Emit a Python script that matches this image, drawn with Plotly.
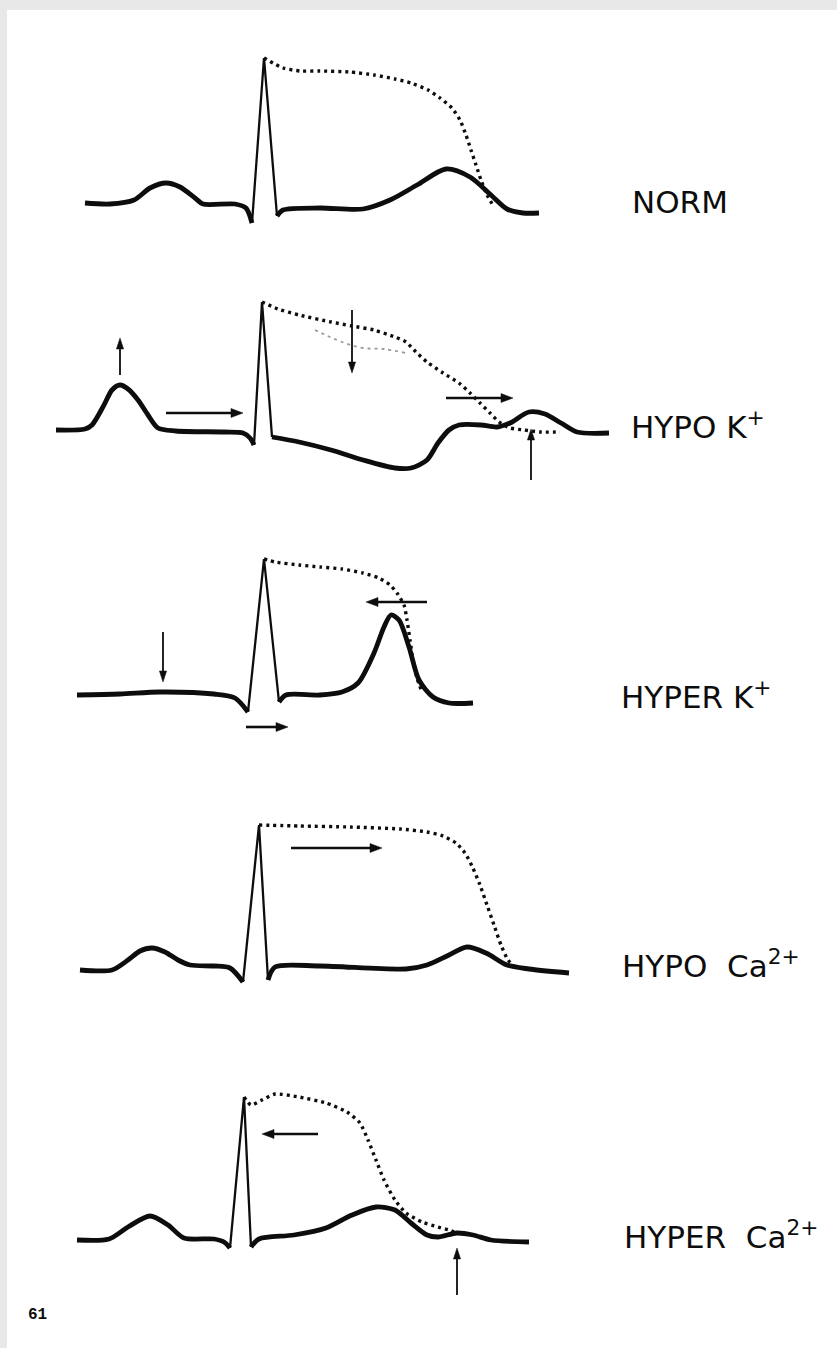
import math
import plotly.graph_objects as go

# ---------------- data (time in arbitrary units, amplitude relative to baseline) -------------
labels = ["NORM", "HYPO K<sup>+</sup>", "HYPER K<sup>+</sup>",
          "HYPO  Ca<sup>2+</sup>", "HYPER  Ca<sup>2+</sup>"]

# NORM
norm_t = [85, 110, 134, 150, 166, 180, 195, 203, 235, 246, 252, 264, 277, 283, 320, 363, 390, 417, 446, 470, 491, 507, 523, 539]
norm_v = [2, 1, 5, 17, 22, 18, 7, 1, 1, -3, -18, 147, -11, -5, -3, -4, 5, 20, 36, 28, 10, -4, -8, -8]
norm_ap_t = [264, 283, 300, 320, 350, 374, 395, 411, 428, 440, 452, 460, 466, 471, 476, 481, 487, 494]
norm_ap_v = [147, 137, 134, 134, 133, 130, 126, 122, 115, 107, 97, 85, 70, 55, 40, 25, 10, -2]

# HYPO K+
hypok_t = [56, 85, 92, 104, 112, 120, 128, 138, 148, 158, 176, 224, 243, 250, 254, 262, 272, 299, 331, 363, 395, 411, 427, 438, 449, 459, 481, 497, 510, 529, 545, 561, 577, 609]
hypok_v = [2, 3, 7, 27, 42, 47, 43, 32, 17, 4, 1, 0, -1, -6, -13, 130, -5, -10, -18, -28, -36, -36, -28, -11, 2, 7, 7, 5, 9, 20, 18, 9, 0, -1]
hypok_ap_t = [262, 278, 299, 331, 352, 374, 395, 406, 416, 427, 443, 459, 470, 480, 490, 499, 510, 524, 540, 560]
hypok_ap_v = [130, 123, 117, 110, 106, 102, 95, 90, 80, 70, 59, 49, 39, 29, 19, 10, 4, 2, 0, 0]
hypok_ap2_t = [315, 342, 363, 384, 406]
hypok_ap2_v = [102, 90, 84, 83, 79]

# HYPER K+
hyperk_t = [77, 120, 160, 214, 235, 248, 264, 279, 286, 320, 342, 358, 374, 384, 391, 399, 409, 419, 433, 449, 473]
hyperk_v = [0, 1, 3, 1, -3, -17, 136, -7, 0, 0, 3, 12, 42, 68, 80, 75, 48, 15, -2, -8, -8]
hyperk_ap_t = [264, 275, 299, 320, 342, 363, 379, 390, 397, 404, 407, 410, 413, 417, 422]
hyperk_ap_v = [136, 133, 130, 128, 126, 122, 117, 110, 102, 90, 75, 55, 35, 17, 3]

# HYPO Ca2+
hypoca_t = [80, 112, 128, 140, 152, 165, 178, 190, 214, 230, 243, 259, 268, 275, 320, 406, 427, 449, 467, 486, 507, 529, 569]
hypoca_v = [0, 0, 10, 19, 22, 18, 10, 5, 4, 2, -12, 145, -10, 3, 4, 1, 5, 15, 23, 17, 5, 1, -3]
hypoca_ap_t = [259, 300, 350, 400, 427, 443, 456, 465, 472, 480, 487, 494, 501, 508, 516]
hypoca_ap_v = [145, 144, 143, 141, 138, 134, 127, 117, 104, 85, 65, 45, 25, 10, 2]

# HYPER Ca2+
hyperca_t = [77, 109, 128, 150, 168, 184, 214, 224, 230, 244, 251, 259, 294, 326, 352, 376, 395, 411, 427, 438, 457, 473, 491, 529]
hyperca_v = [0, 1, 13, 24, 15, 2, 1, -2, -8, 143, -7, 1, 5, 12, 25, 33, 30, 17, 5, 3, 7, 5, 0, -2]
hyperca_ap_t = [244, 251, 262, 275, 299, 326, 347, 360, 368, 376, 384, 395, 406, 422, 438, 449, 457]
hyperca_ap_v = [143, 135, 140, 146, 143, 137, 128, 117, 100, 80, 60, 40, 27, 18, 13, 10, 7]

# arrows per panel: (tail_t, tail_v, head_t, head_v)
norm_arrows = []
hypok_arrows = [(120, 57, 120, 94), (166, 19, 243, 19), (352, 122, 352, 59),
                (446, 34, 513, 34), (531, -48, 531, 3)]
hyperk_arrows = [(163, 63, 163, 13), (246, -32, 288, -32), (427, 93, 366, 93)]
hypoca_arrows = [(291, 122, 382, 122)]
hyperca_arrows = [(318, 106, 262, 106), (457, -55, 457, -8)]

ecg = [(norm_t, norm_v), (hypok_t, hypok_v), (hyperk_t, hyperk_v),
       (hypoca_t, hypoca_v), (hyperca_t, hyperca_v)]
aps = [(norm_ap_t, norm_ap_v), (hypok_ap_t, hypok_ap_v), (hyperk_ap_t, hyperk_ap_v),
       (hypoca_ap_t, hypoca_ap_v), (hyperca_ap_t, hyperca_ap_v)]
arrows = [norm_arrows, hypok_arrows, hyperk_arrows, hypoca_arrows, hyperca_arrows]

# ---------------- layout of panels (pixel bands) -------------
W, H = 837, 1348
bands = [(20, 205, 270), (280, 432, 510), (540, 695, 760), (790, 970, 1020), (1050, 1240, 1320)]
label_x = [630, 629, 619, 620, 622]
label_v = [3, 7, 0, 6, 5]

fig = go.Figure()
BLACK = "#0d0d0d"

for i, ((t, v), (at, av)) in enumerate(zip(ecg, aps)):
    yname = "y" if i == 0 else f"y{i+1}"
    r = v.index(max(v))
    fig.add_trace(go.Scatter(x=t[:r], y=v[:r], mode="lines", xaxis="x", yaxis=yname,
                             line=dict(color=BLACK, width=4.8, shape="spline", smoothing=0.8),
                             hoverinfo="skip", showlegend=False))
    fig.add_trace(go.Scatter(x=t[r-1:r+2], y=v[r-1:r+2], mode="lines", xaxis="x", yaxis=yname,
                             line=dict(color=BLACK, width=2.3), hoverinfo="skip", showlegend=False))
    fig.add_trace(go.Scatter(x=t[r+1:], y=v[r+1:], mode="lines", xaxis="x", yaxis=yname,
                             line=dict(color=BLACK, width=4.8, shape="spline", smoothing=0.8),
                             hoverinfo="skip", showlegend=False))
    fig.add_trace(go.Scatter(x=at, y=av, mode="lines", xaxis="x", yaxis=yname,
                             line=dict(color=BLACK, width=3.4, dash="3px,4px", shape="spline", smoothing=0.6),
                             hoverinfo="skip", showlegend=False))
    if i == 1:
        fig.add_trace(go.Scatter(x=hypok_ap2_t, y=hypok_ap2_v, mode="lines", xaxis="x", yaxis=yname,
                                 line=dict(color="#9a9a9a", width=1.8, dash="3px,4px", shape="spline"),
                                 hoverinfo="skip", showlegend=False))

layout = dict(
    width=W, height=H, autosize=False,
    margin=dict(l=0, r=0, t=0, b=0, pad=0),
    paper_bgcolor="white", plot_bgcolor="white",
    xaxis=dict(range=[0, W], domain=[0, 1], visible=False, fixedrange=True),
    showlegend=False,
)
annotations = []
shapes = [
    dict(type="rect", xref="paper", yref="paper", x0=0, x1=1, y0=1 - 10 / H, y1=1,
         fillcolor="#e8e8e8", line=dict(width=0), layer="below"),
    dict(type="rect", xref="paper", yref="paper", x0=0, x1=7 / W, y0=0, y1=1,
         fillcolor="#e8e8e8", line=dict(width=0), layer="below"),
]
for i, (top, base, bot) in enumerate(bands):
    key = "yaxis" if i == 0 else f"yaxis{i+1}"
    yref = "y" if i == 0 else f"y{i+1}"
    # 1 amplitude unit == 1 px, same as the time axis
    layout[key] = dict(range=[base - bot, base - top], domain=[1 - bot / H, 1 - top / H],
                       anchor="x", visible=False, fixedrange=True)
    annotations.append(dict(x=label_x[i], y=label_v[i], xref="x", yref=yref, text=labels[i],
                            showarrow=False, xanchor="left", yanchor="middle",
                            font=dict(family="DejaVu Sans", size=31, color=BLACK)))
    for (tt, tv, ht, hv) in arrows[i]:
        horiz = tv == hv
        lw = 2.6 if horiz else 1.8
        L = 12 if horiz else 11
        hw = 4.5 if horiz else 3.6
        dx, dy = ht - tt, hv - tv
        n = math.hypot(dx, dy)
        ux, uy = dx / n, dy / n
        px_, py_ = -uy, ux
        bx, by = ht - L * ux, hv - L * uy
        shapes.append(dict(type="line", xref="x", yref=yref, x0=tt, y0=tv, x1=bx + ux, y1=by + uy,
                           line=dict(color=BLACK, width=lw)))
        path = (f"M{ht},{hv} L{bx + hw * px_},{by + hw * py_} "
                f"L{bx - hw * px_},{by - hw * py_} Z")
        shapes.append(dict(type="path", xref="x", yref=yref, path=path,
                           fillcolor=BLACK, line=dict(color=BLACK, width=0.5)))

annotations.append(dict(x=26 / W, y=1 - 1315 / H, xref="paper", yref="paper", text="<b>61</b>",
                        showarrow=False, xanchor="left", yanchor="middle",
                        font=dict(family="Liberation Mono", size=16, color=BLACK)))
layout["annotations"] = annotations
layout["shapes"] = shapes
fig.update_layout(**layout)
fig.write_html("out.html", config={"displayModeBar": False, "staticPlot": True},
               post_script="document.body.style.margin='0px';")
